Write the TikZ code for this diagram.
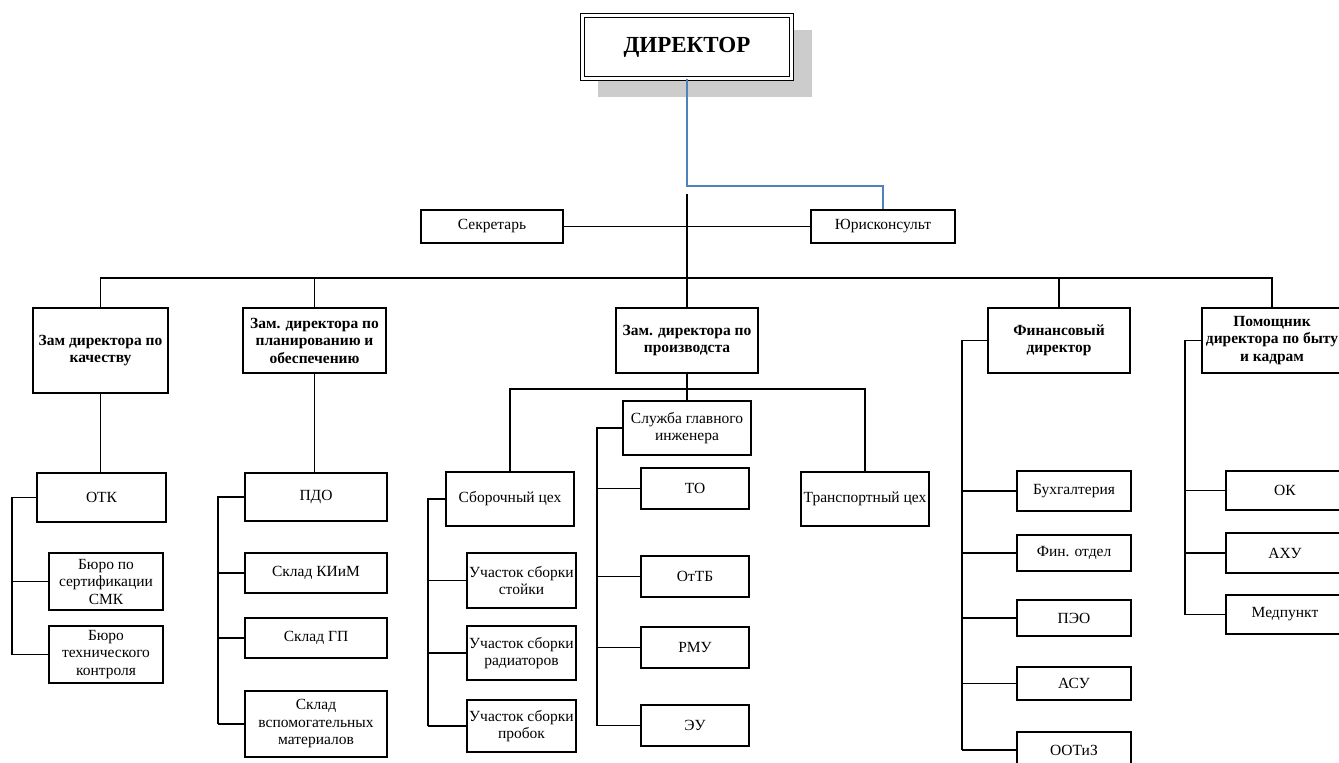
\documentclass[tikz,border=0pt]{standalone}
\usepackage{fontspec}
\setmainfont{Liberation Serif}
\begin{document}
\begin{tikzpicture}[x=1pt,y=-1pt,
  box/.style={draw, line width=1.1pt, fill=white, inner sep=0pt, align=center,
    font=\fontsize{15.5}{17.5}\selectfont},
  hbox/.style={box, font=\fontsize{15.5}{17.5}\selectfont\bfseries},
  ln/.style={line width=1.1pt},
  busln/.style={line width=1.9pt},
  blueln/.style={line width=1.1pt, draw={rgb,255:red,79;green,129;blue,189}},
  shadowbox/.style={fill={rgb,255:red,204;green,204;blue,204}, draw=none}]
\useasboundingbox (0,0) rectangle (1339,763);
\newcommand\bx[7][box]{\node[#1, minimum width={(#5-#3)*1pt}, minimum height={(#6-#4)*1pt}] (#2) at ({(#3+#5)/2},{(#4+#6)/2}) {#7};}
% director with shadow
\fill[shadowbox] (598,30) rectangle (812,97);
\node[draw, double, line width=1pt, double distance=2.2pt, fill=white, inner sep=0pt,
  minimum width=209pt, minimum height=63pt,
  font=\fontsize{23}{25}\selectfont\bfseries] (dir) at (687,47) {ДИРЕКТОР};
\bx{sec}{421}{210}{563}{243}{Секретарь}
\bx{jur}{811}{210}{955}{243}{Юрисконсульт}
\bx[hbox]{zk}{33}{308}{168}{393}{Зам директора по\\качеству}
\bx[hbox]{zp}{243}{308}{386}{373}{Зам. директора по\\планированию и\\обеспечению}
\bx[hbox]{zpr}{616}{308}{758}{373}{Зам. директора по\\производста}
\bx[hbox]{fin}{988}{308}{1130}{373}{Финансовый\\директор}
\bx[hbox]{pom}{1202}{308}{1342}{373}{Помощник\\директора по быту\\и кадрам}
\bx{otk}{37}{473}{166}{522}{ОТК}
\bx{b1}{49}{553}{163}{610}{Бюро по\\сертификации\\СМК}
\bx{b2}{49}{626}{163}{683}{Бюро\\технического\\контроля}
\bx{pdo}{245}{473}{387}{521}{ПДО}
\bx{s1}{245}{553}{387}{593}{Склад КИиМ}
\bx{s2}{245}{618}{387}{658}{Склад ГП}
\bx{s3}{245}{691}{387}{757}{Склад\\вспомогательных\\материалов}
\bx{sb}{446}{472}{574}{526}{Сборочный цех}
\bx{u1}{467}{553}{576}{608}{Участок сборки\\стойки}
\bx{u2}{467}{626}{576}{680}{Участок сборки\\радиаторов}
\bx{u3}{467}{700}{576}{752}{Участок сборки\\пробок}
\bx{sgi}{623}{401}{751}{455}{Служба главного\\инженера}
\bx{to}{641}{468}{749}{509}{ТО}
\bx{ot}{641}{556}{749}{597}{ОтТБ}
\bx{rmu}{641}{627}{749}{668}{РМУ}
\bx{eu}{641}{705}{749}{746}{ЭУ}
\bx{tr}{801}{472}{929}{526}{Транспортный цех}
\bx{bux}{1017}{471}{1131}{511}{Бухгалтерия}
\bx{fo}{1017}{535}{1131}{571}{Фин. отдел}
\bx{peo}{1017}{600}{1131}{636}{ПЭО}
\bx{asu}{1017}{667}{1131}{700}{АСУ}
\bx{oot}{1017}{732}{1131}{768}{ООТиЗ}
\bx{ok}{1226}{471}{1344}{510}{ОК}
\bx{axu}{1226}{533}{1344}{573}{АХУ}
\bx{med}{1226}{595}{1344}{634}{Медпункт}
% coordinates
\coordinate (jb) at (883,186);
\coordinate (tk) at (687,194);
\coordinate (hub) at (687,278);
\coordinate (pb) at (687,389);
\coordinate (oL) at (12,0);
\coordinate (pL) at (218,0);
\coordinate (sL) at (428,0);
\coordinate (gL) at (597,0);
\coordinate (fL) at (962,0);
\coordinate (mL) at (1185,0);
% top connectors
\draw[blueln] (dir.south) |- (jb) -- (jb |- jur.north);
\draw[busln] (tk) -- (hub);
\draw[ln] (sec.east) -- (jur.west);
\draw[ln] (hub) -- (zpr.north);
\draw[ln] (zk.north) -- (zk.north |- hub) -- (pom.north |- hub) -- (pom.north);
\draw[ln] (zp.north) -- (zp.north |- hub);
\draw[ln] (fin.north) -- (fin.north |- hub);
% quality
\draw[ln] (zk.south) -- (zk.south |- otk.north);
\draw[busln] (otk.west) -- (otk.west -| oL) -- (b2.west -| oL);
\draw[ln] (b1.west -| oL) -- (b1.west);
\draw[ln] (b2.west -| oL) -- (b2.west);
% planning
\draw[ln] (zp.south) -- (zp.south |- pdo.north);
\draw[busln] (pdo.west) -- (pdo.west -| pL) -- (s3.west -| pL);
\draw[ln] (s1.west -| pL) -- (s1.west);
\draw[ln] (s2.west -| pL) -- (s2.west);
\draw[ln] (s3.west -| pL) -- (s3.west);
% production
\draw[ln] (zpr.south) -- (sgi.north);
\draw[ln] (sb.north) -- (sb.north |- pb) -- (tr.north |- pb) -- (tr.north);
\draw[busln] (sb.west) -- (sb.west -| sL) -- (u3.west -| sL);
\draw[ln] (u1.west -| sL) -- (u1.west);
\draw[ln] (u2.west -| sL) -- (u2.west);
\draw[ln] (u3.west -| sL) -- (u3.west);
\draw[busln] (sgi.west) -- (sgi.west -| gL) -- (eu.west -| gL);
\draw[ln] (to.west -| gL) -- (to.west);
\draw[ln] (ot.west -| gL) -- (ot.west);
\draw[ln] (rmu.west -| gL) -- (rmu.west);
\draw[ln] (eu.west -| gL) -- (eu.west);
% finance
\draw[busln] (fin.west) -- (fin.west -| fL) -- (oot.west -| fL);
\draw[ln] (bux.west -| fL) -- (bux.west);
\draw[ln] (fo.west -| fL) -- (fo.west);
\draw[ln] (peo.west -| fL) -- (peo.west);
\draw[ln] (asu.west -| fL) -- (asu.west);
\draw[ln] (oot.west -| fL) -- (oot.west);
% assistant
\draw[busln] (pom.west) -- (pom.west -| mL) -- (med.west -| mL);
\draw[ln] (ok.west -| mL) -- (ok.west);
\draw[ln] (axu.west -| mL) -- (axu.west);
\draw[ln] (med.west -| mL) -- (med.west);
\end{tikzpicture}
\end{document}
